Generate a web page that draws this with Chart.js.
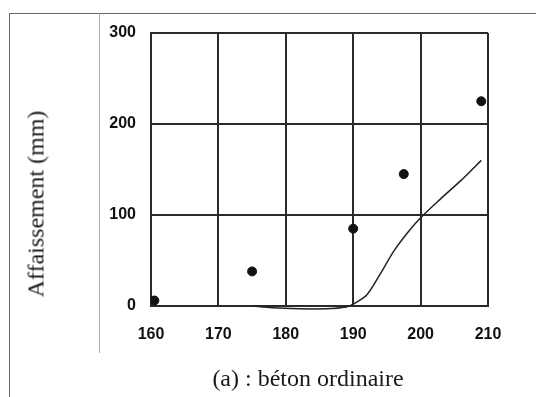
<!DOCTYPE html>
<html lang="fr">
<head>
  <meta charset="UTF-8" />
  <title>Affaissement - béton ordinaire</title>
  <script src="https://cdn.jsdelivr.net/npm/chart.js"></script>
  <style>
    html, body { margin: 0; padding: 0; background: #fff; }
    #wrap { position: relative; width: 536px; height: 397px; overflow: hidden; }
    #graf { position: absolute; left: 0; top: 0; }
    .ligne { position: absolute; background: #666; }
    .txt { position: absolute; font-family: "Liberation Serif", "Times New Roman", serif; font-size: 24px; color: #1a1a1a; white-space: nowrap; }
  </style>
</head>
<body>
  <div id="wrap">
    <canvas id="graf" width="536" height="397"></canvas>
    <!-- cadre du tableau -->
    <div class="ligne" style="left:9px; top:13px; width:527px; height:1px;"></div>
    <div class="ligne" style="left:9px; top:13px; width:1px; height:384px;"></div>
    <div class="ligne" style="left:99px; top:13px; width:1px; height:340px; background:#aaa;"></div>
    <div class="txt" style="left:36px; top:204px; transform: translate(-50%, -50%) rotate(-90deg);">Affaissement (mm)</div>
    <div class="txt" style="left:308px; top:378px; transform: translate(-50%, -50%);">(a) : béton ordinaire</div>
  </div>

  <script>
    // points mesurés (losanges noirs)
    const mesuresX = [160.5, 175, 190, 197.5, 209];
    const mesuresY = [6, 38, 85, 145, 225];

    // courbe continue
    const courbeX = [175, 178, 182, 186, 189, 190, 192, 194, 196, 198, 200, 203, 206, 209];
    const courbeY = [0, -2, -3, -3, -1, 2, 12, 35, 60, 80, 97, 118, 138, 160];

    const ticksX = [160, 170, 180, 190, 200, 210];
    const ticksY = [0, 100, 200, 300];

    const police = { family: '"Liberation Sans", Arial, sans-serif', size: 16, weight: 'bold' };

    new Chart(document.getElementById('graf'), {
      type: 'scatter',
      data: {
        datasets: [
          {
            label: 'Mesures',
            data: mesuresX.map((x, i) => ({ x: x, y: mesuresY[i] })),
            backgroundColor: '#111',
            borderColor: '#111',
            pointRadius: 4.5,
            pointStyle: 'circle'
          },
          {
            label: 'Courbe',
            data: courbeX.map((x, i) => ({ x: x, y: courbeY[i] })),
            showLine: true,
            borderColor: '#222',
            borderWidth: 1.5,
            pointRadius: 0,
            tension: 0.3,
            clip: false
          }
        ]
      },
      options: {
        responsive: false,
        animation: false,
        layout: { padding: { left: 0, right: 48, top: 33, bottom: 0 } },
        plugins: { legend: { display: false }, tooltip: { enabled: false } },
        scales: {
          x: {
            type: 'linear',
            min: 160,
            max: 210,
            afterBuildTicks: s => { s.ticks = ticksX.map(v => ({ value: v })); },
            afterFit: s => { s.height = 91; },
            grid: { color: '#2a2a2a', lineWidth: 2, drawTicks: false },
            border: { color: '#2a2a2a', width: 2 },
            ticks: { padding: 19, color: '#111', font: police }
          },
          y: {
            min: 0,
            max: 300,
            afterBuildTicks: s => { s.ticks = ticksY.map(v => ({ value: v })); },
            afterFit: s => { s.width = 151; },
            grid: { color: '#2a2a2a', lineWidth: 2, drawTicks: false },
            border: { color: '#2a2a2a', width: 2 },
            ticks: { padding: 15, color: '#111', font: police }
          }
        }
      }
    });
  </script>
</body>
</html>
